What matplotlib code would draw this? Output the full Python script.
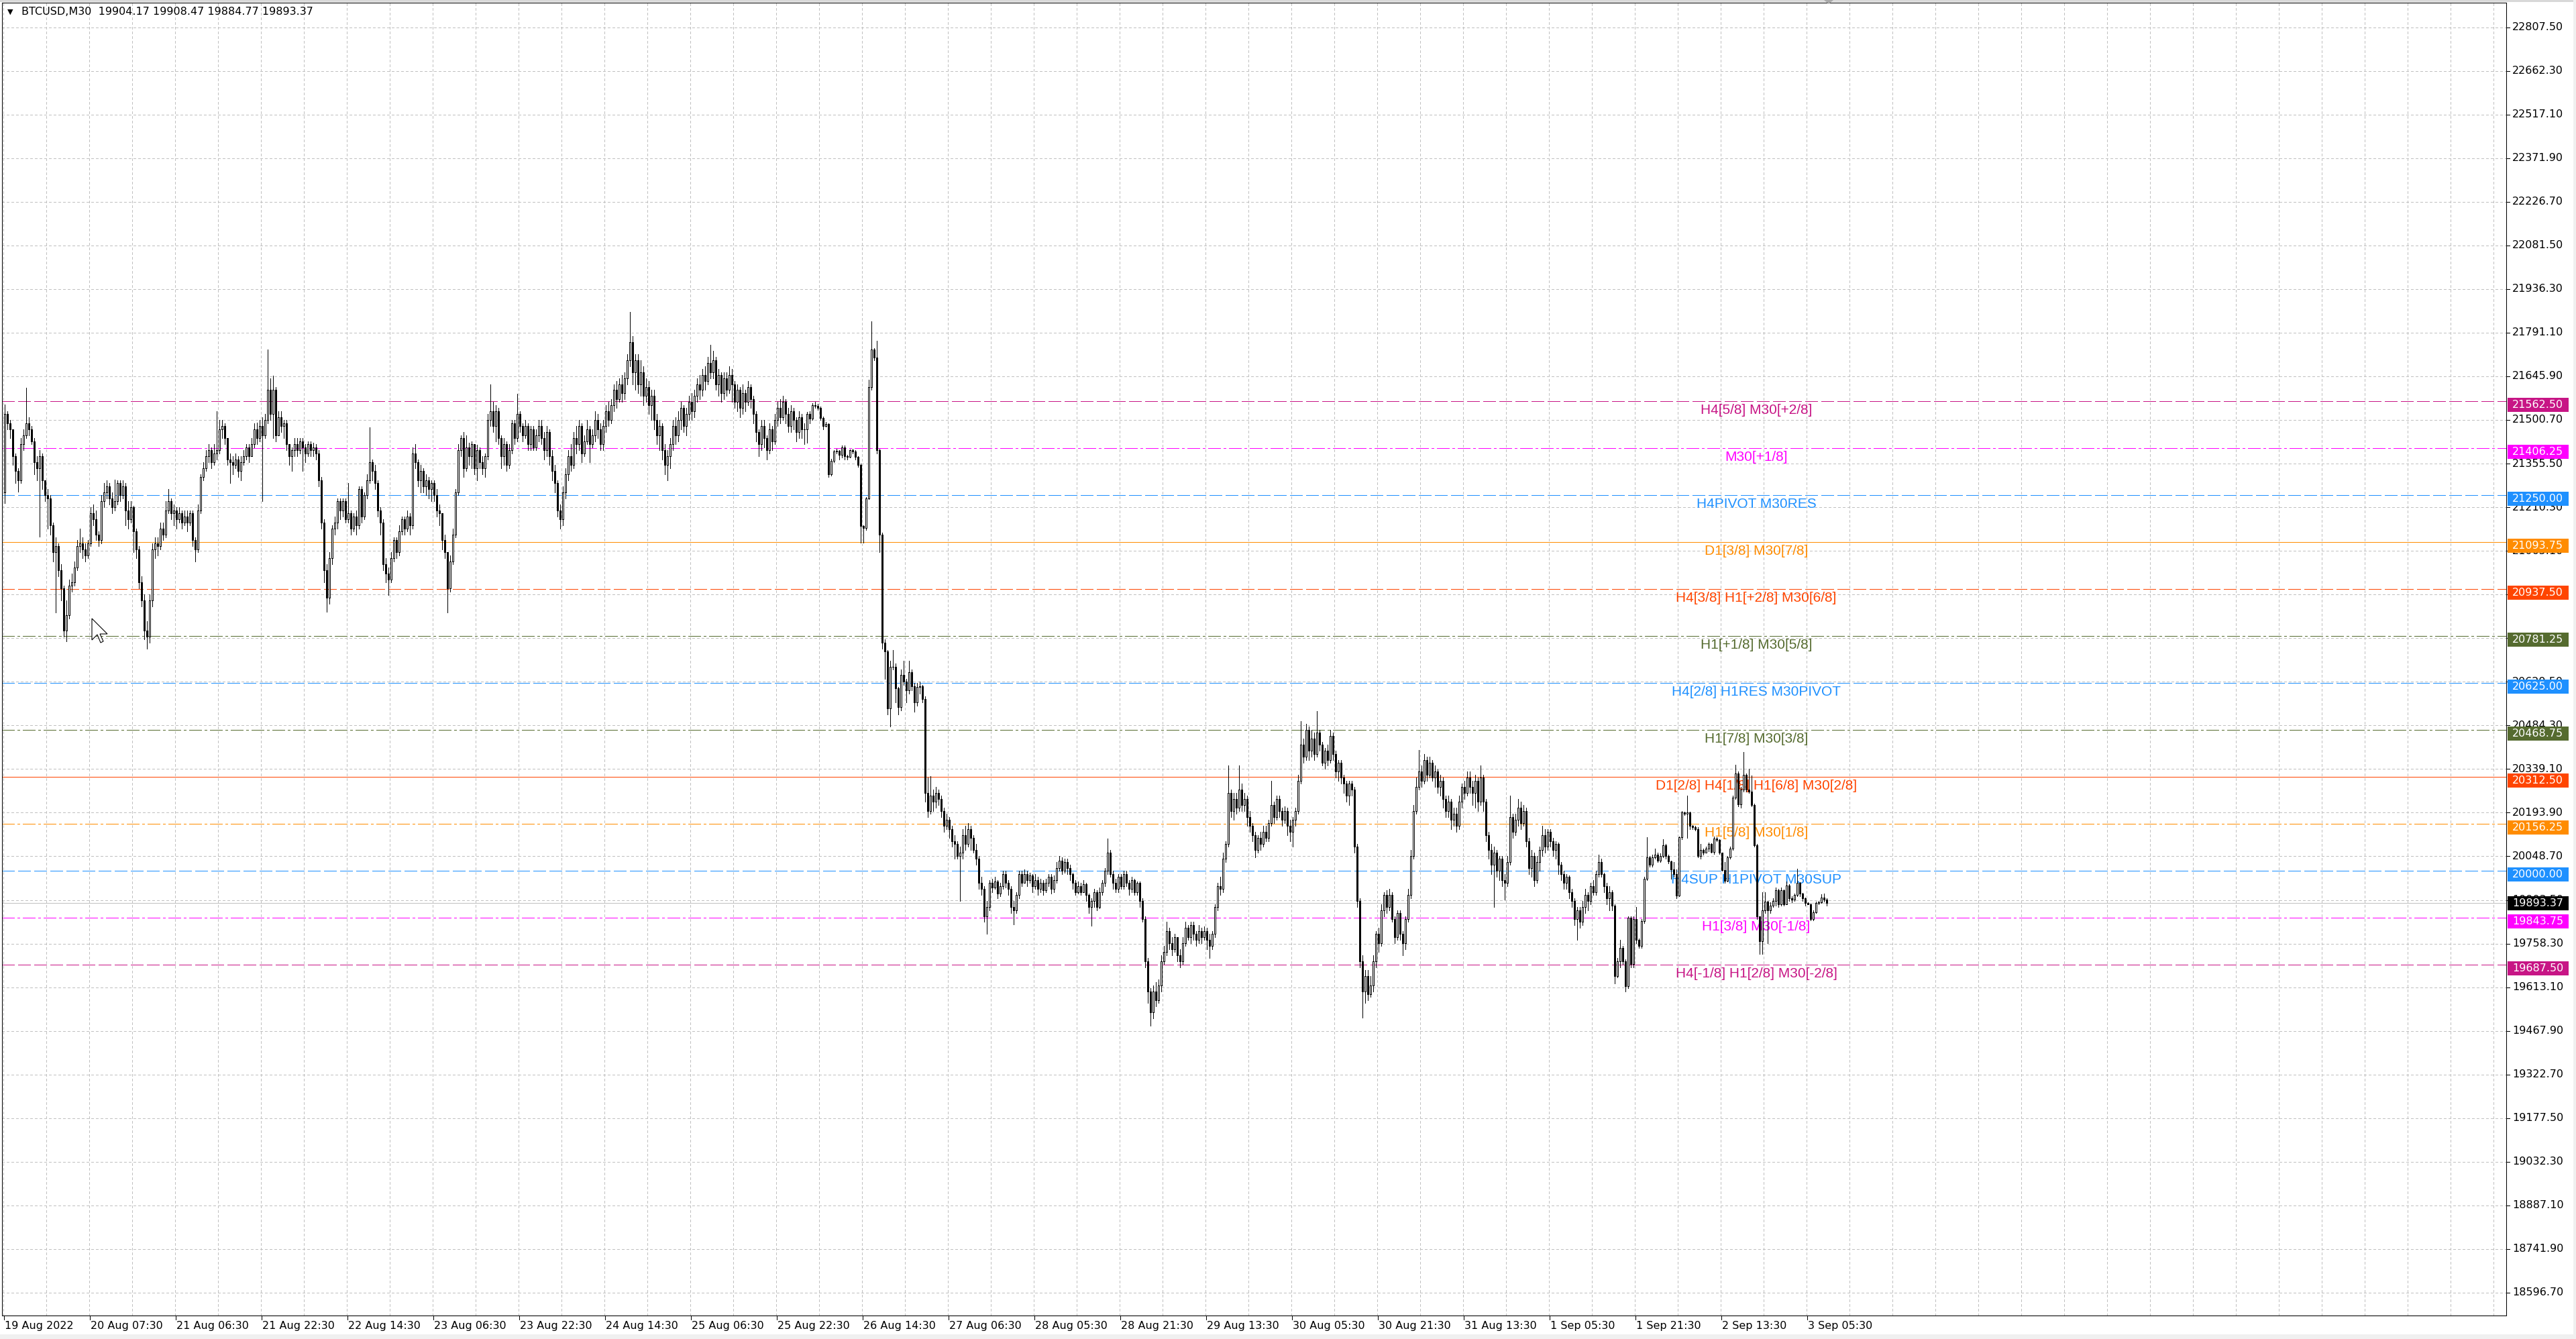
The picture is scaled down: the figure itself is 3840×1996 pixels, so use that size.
import numpy as np
import matplotlib
matplotlib.use("Agg")
import matplotlib.pyplot as plt
from matplotlib.patches import Rectangle, Polygon
from matplotlib.lines import Line2D
from matplotlib.transforms import blended_transform_factory

W, H, DPI = 3840, 1996, 100
plt.rcParams["lines.scale_dashes"] = False

header = "BTCUSD,M30  19904.17 19908.47 19884.77 19893.37"

first_open = 21260
closes = [
    21520, 21490, 21470, 21380, 21330, 21300, 21420, 21450, 21490, 21470,
    21430, 21360, 21340, 21380, 21300, 21250, 21240, 21150, 21060, 21080,
    21000, 20940, 20800, 20850, 20950, 20960, 21010, 21080, 21090, 21070,
    21050, 21090, 21190, 21170, 21120, 21100, 21230, 21260, 21280, 21240,
    21210, 21230, 21290, 21250, 21280, 21200, 21170, 21210, 21130, 21070,
    20960, 20900, 20800, 20780, 20900, 21070, 21090, 21080, 21140, 21120,
    21200, 21230, 21190, 21200, 21170, 21190, 21160, 21180, 21160, 21190,
    21100, 21070, 21200, 21310, 21340, 21380, 21400, 21360, 21390, 21400,
    21470, 21480, 21440, 21370, 21360, 21350, 21370, 21330, 21360, 21380,
    21410, 21380, 21420, 21470, 21440, 21480, 21450, 21500, 21600, 21520,
    21600, 21450, 21510, 21480, 21490, 21420, 21380, 21400, 21420, 21400,
    21430, 21410, 21390, 21420, 21400, 21410, 21390, 21300, 21160, 21000,
    20910, 21040, 21140, 21160, 21230, 21200, 21230, 21170, 21190, 21140,
    21180, 21150, 21270, 21180, 21250, 21300, 21360, 21330, 21290, 21200,
    21160, 21020, 20990, 20970, 21040, 21100, 21060, 21130, 21170, 21140,
    21180, 21150, 21390, 21360, 21300, 21330, 21280, 21300, 21270, 21290,
    21250, 21200, 21190, 21100, 21060, 20940, 21030, 21120, 21260, 21400,
    21440, 21340, 21410, 21380, 21420, 21340, 21400, 21360, 21340, 21380,
    21500, 21530, 21480, 21530, 21440, 21380, 21420, 21350, 21400, 21490,
    21440, 21520, 21480, 21450, 21480, 21420, 21470, 21410, 21450, 21480,
    21440, 21400, 21460, 21380, 21330, 21290, 21200, 21170, 21260, 21320,
    21380, 21350, 21440, 21420, 21480, 21390, 21430, 21470, 21420, 21450,
    21500, 21470, 21420, 21480, 21530, 21500, 21550, 21600, 21570, 21620,
    21590, 21640, 21700, 21760, 21660, 21700, 21620, 21660, 21580, 21610,
    21550, 21580, 21500, 21450, 21480, 21400, 21350, 21380, 21420, 21480,
    21450, 21500, 21540, 21480, 21520, 21560, 21530, 21580, 21620, 21600,
    21650, 21630, 21690, 21660, 21700, 21620, 21650, 21590, 21640, 21600,
    21650, 21620, 21560, 21600, 21540, 21590, 21560, 21610, 21570, 21520,
    21460, 21420, 21480, 21440, 21400, 21470, 21430, 21500, 21540, 21510,
    21560, 21520, 21480, 21530, 21500, 21460, 21510, 21470, 21470, 21520,
    21506, 21550, 21548, 21541, 21508, 21480, 21487, 21320, 21365, 21395,
    21398, 21385, 21410, 21380, 21378, 21400, 21396, 21378, 21352, 21147,
    21142, 21240, 21610, 21735, 21708, 21400, 21120, 20760, 20730, 20540,
    20680, 20680, 20607, 20545, 20652, 20630, 20600, 20662, 20614, 20560,
    20612, 20615, 20573, 20260, 20200, 20250, 20230, 20260, 20240, 20200,
    20150, 20170, 20140, 20100, 20090, 20050, 20060, 20120, 20090, 20140,
    20110, 20070, 20040, 19960, 19940, 19850, 19880, 19960, 19945, 19965,
    19925, 19950, 19990, 19960, 19940, 19880, 19870, 19920, 19990, 19960,
    19990, 19970, 19985, 19950, 19970, 19940, 19960, 19935, 19960, 19980,
    19940, 19970, 20010, 20035, 20000, 20030, 20010, 19990, 19960, 19930,
    19950, 19930, 19955, 19920, 19880, 19900, 19930, 19880, 19930, 19960,
    20000, 20060, 19990, 19960, 19940, 19980, 19950, 19990, 19960, 19940,
    19970, 19930, 19960, 19900, 19840, 19700, 19600, 19530, 19600, 19570,
    19620, 19700, 19730, 19800, 19760, 19740, 19780, 19720, 19700, 19760,
    19810, 19780, 19820, 19790, 19770, 19800, 19780, 19800, 19770, 19750,
    19790, 19880, 19950, 19940, 20040, 20090, 20260, 20200, 20240, 20210,
    20270, 20220, 20240, 20180, 20150, 20120, 20070, 20110, 20090, 20130,
    20110, 20160, 20220, 20180, 20240, 20200, 20170, 20200, 20150, 20130,
    20170, 20200, 20300, 20420, 20380, 20470, 20400, 20440, 20390, 20460,
    20420, 20360, 20400, 20370, 20450, 20390, 20330, 20360, 20310, 20290,
    20250, 20290, 20270, 20080, 19900, 19700, 19600, 19650, 19590, 19620,
    19700, 19790, 19760, 19870, 19920, 19880, 19920, 19840, 19780, 19860,
    19790, 19760, 19840, 19920, 20050, 20200, 20280, 20330, 20300, 20370,
    20320, 20360, 20310, 20330, 20280, 20300, 20240, 20200, 20230, 20170,
    20190, 20150, 20230, 20280, 20260, 20310, 20280, 20260, 20300, 20230,
    20310, 20230, 20120, 20070, 20020, 20060, 20000, 20040, 19970, 19960,
    20030, 20180, 20130, 20170, 20210, 20160, 20200, 20100, 20010, 20050,
    19970, 20030, 20070, 20120, 20080, 20130, 20100, 20070, 20090, 20020,
    19990, 19960, 19980, 19930, 19900, 19840, 19870, 19830, 19880, 19920,
    19900, 19950, 19930, 19990, 20030, 19990, 19950, 19910, 19930, 19885,
    19650, 19699, 19744, 19700, 19617, 19844, 19690, 19840, 19770, 19751,
    19833, 19975, 20045, 20020, 20045, 20055, 20035, 20050, 20086, 20050,
    20032, 20005, 19990, 19919, 20112, 20194, 20190, 20194, 20150, 20145,
    20140, 20049, 20070, 20060, 20075, 20090, 20063, 20108, 20104, 20060,
    20004, 19967, 20045, 20075, 20243, 20324, 20222, 20270, 20320, 20270,
    20265, 20220, 20086, 19848, 19766, 19870, 19897, 19870, 19885, 19900,
    19937, 19890, 19935, 19890, 19952, 19910, 19905, 19920, 19960, 19925,
    19910, 19893, 19890, 19840, 19863, 19893, 19895, 19911, 19904.17, 19893.37,
]
highs = [
    21551, 21530, 21500, 21470, 21390, 21340, 21440, 21470, 21607, 21510,
    21480, 21440, 21380, 21400, 21390, 21300, 21270, 21250, 21160, 21110,
    21090, 21020, 20950, 20900, 20970, 20990, 21030, 21100, 21140, 21110,
    21090, 21100, 21210, 21220, 21200, 21130, 21250, 21290, 21300, 21290,
    21260, 21302, 21300, 21300, 21300, 21290, 21230, 21230, 21216, 21140,
    21080, 20980, 20920, 20830, 20920, 21090, 21110, 21110, 21160, 21160,
    21230, 21270, 21240, 21220, 21210, 21210, 21200, 21200, 21200, 21200,
    21200, 21110, 21220, 21320, 21360, 21400, 21420, 21410, 21420, 21529,
    21500, 21500, 21490, 21440, 21390, 21380, 21390, 21380, 21380, 21400,
    21420, 21420, 21440, 21490, 21492, 21500, 21510, 21520, 21735, 21640,
    21648, 21610, 21530, 21530, 21500, 21500, 21420, 21410, 21440, 21440,
    21440, 21440, 21420, 21430, 21430, 21425, 21420, 21400, 21310, 21170,
    21020, 21060, 21150, 21180, 21240, 21240, 21240, 21240, 21290, 21200,
    21190, 21200, 21280, 21280, 21260, 21320, 21477, 21370, 21350, 21300,
    21210, 21170, 21040, 21010, 21060, 21110, 21110, 21150, 21180, 21180,
    21200, 21190, 21410, 21420, 21370, 21350, 21340, 21320, 21310, 21300,
    21300, 21270, 21220, 21190, 21120, 21060, 21050, 21140, 21270, 21420,
    21450, 21460, 21450, 21425, 21430, 21420, 21417, 21410, 21380, 21390,
    21520, 21618, 21560, 21550, 21540, 21450, 21440, 21430, 21420, 21500,
    21500, 21588, 21530, 21490, 21500, 21490, 21480, 21480, 21470, 21500,
    21500, 21460, 21480, 21470, 21400, 21350, 21300, 21220, 21280, 21340,
    21400, 21420, 21460, 21480, 21500, 21490, 21450, 21500, 21480, 21470,
    21530, 21520, 21490, 21500, 21550, 21560, 21570, 21620, 21630, 21640,
    21650, 21660, 21720, 21861, 21780, 21720, 21720, 21700, 21680, 21640,
    21630, 21600, 21600, 21520, 21500, 21490, 21420, 21400, 21440, 21500,
    21510, 21530, 21560, 21550, 21540, 21580, 21590, 21600, 21640, 21650,
    21670, 21680, 21710, 21750, 21730, 21710, 21670, 21660, 21660, 21660,
    21680, 21670, 21630, 21620, 21610, 21620, 21600, 21630, 21620, 21580,
    21530, 21470, 21500, 21500, 21450, 21490, 21480, 21520, 21560, 21570,
    21580, 21570, 21540, 21550, 21540, 21510, 21530, 21520, 21490, 21527,
    21530, 21556, 21560, 21555, 21545, 21512, 21495, 21490, 21372, 21400,
    21405, 21400, 21415, 21415, 21385, 21402, 21405, 21400, 21380, 21355,
    21150, 21245, 21635, 21828, 21740, 21765, 21405, 21125, 20770, 20735,
    20700, 20735, 20690, 20612, 20670, 20700, 20640, 20700, 20670, 20625,
    20625, 20630, 20620, 20580, 20310, 20315, 20270, 20280, 20270, 20250,
    20210, 20190, 20180, 20150, 20120, 20100, 20080, 20140, 20150, 20160,
    20150, 20120, 20090, 20050, 19980, 19950, 19900, 19970, 19975, 19980,
    19970, 19960, 20000, 20000, 19970, 19950, 19900, 19930, 20000, 20000,
    20005, 20000, 19995, 19990, 19990, 19980, 19975, 19970, 19975, 19990,
    19990, 19985, 20030, 20050, 20045, 20040, 20040, 20020, 19995, 19970,
    19965, 19960, 19970, 19960, 19925, 19910, 19940, 19935, 19945, 19970,
    20010, 20107, 20070, 20000, 19975, 19990, 19990, 20000, 20000, 19970,
    19980, 19975, 19965, 19965, 19910, 19850, 19710, 19610, 19620, 19630,
    19640, 19720, 19750, 19830, 19810, 19780, 19790, 19780, 19740, 19780,
    19830, 19820, 19830, 19830, 19800, 19820, 19810, 19815, 19810, 19790,
    19800, 19890, 19960, 19980, 20060, 20100, 20350, 20270, 20260, 20260,
    20350, 20290, 20260, 20250, 20200, 20160, 20130, 20120, 20130, 20150,
    20150, 20170, 20300, 20230, 20250, 20250, 20210, 20215, 20210, 20170,
    20180, 20210, 20320, 20498, 20440, 20490, 20480, 20470, 20460, 20533,
    20470, 20430, 20410, 20420, 20470, 20460, 20400, 20370, 20370, 20320,
    20300, 20300, 20300, 20280, 20090, 19910, 19720, 19670, 19670, 19650,
    19720, 19800, 19810, 19890, 19930, 19935, 19940, 19930, 19850, 19870,
    19870, 19800, 19850, 19940, 20070, 20220, 20310, 20402, 20350, 20390,
    20380, 20380, 20370, 20350, 20340, 20320, 20310, 20250, 20250, 20240,
    20210, 20210, 20250, 20290, 20300, 20330, 20330, 20300, 20320, 20310,
    20350, 20320, 20240, 20130, 20090, 20080, 20070, 20050, 20050, 19990,
    20050, 20250, 20190, 20190, 20240, 20230, 20220, 20210, 20110, 20070,
    20060, 20050, 20080, 20150, 20140, 20140, 20140, 20110, 20100, 20095,
    20030, 20000, 19990, 19985, 19940, 19910, 19880, 19880, 19900, 19940,
    19930, 19960, 19970, 20000, 20055, 20040, 19995, 19960, 19950, 19935,
    19890, 19710, 19770, 19750, 19705, 19850, 19850, 19850, 19880, 19775,
    19840, 19980, 20112, 20050, 20055, 20075, 20060, 20058, 20105, 20090,
    20055, 20035, 20030, 20005, 20115, 20200, 20198, 20250, 20196, 20152,
    20150, 20145, 20090, 20075, 20080, 20095, 20092, 20115, 20112, 20106,
    20062, 20030, 20050, 20080, 20250, 20354, 20330, 20280, 20395, 20325,
    20340, 20318, 20225, 20090, 19850, 19930, 19930, 19900, 19895, 19910,
    19945, 19940, 19945, 19938, 19965, 19955, 19915, 19925, 20008, 19962,
    19928, 19912, 19896, 19892, 19868, 19898, 19900, 19922, 19925, 19908.47,
]
lows = [
    21224, 21470, 21440, 21350, 21290, 21261, 21290, 21400, 21440, 21450,
    21420, 21320, 21300, 21112, 21270, 21230, 21140, 21120, 21030, 20860,
    20980, 20900, 20780, 20763, 20840, 20930, 20950, 21000, 21060, 21040,
    21030, 21040, 21080, 21150, 21100, 21080, 21090, 21210, 21240, 21220,
    21190, 21200, 21220, 21230, 21240, 21150, 21140, 21160, 21060, 21040,
    20940, 20880, 20770, 20740, 20760, 20880, 21040, 21050, 21070, 21100,
    21110, 21190, 21170, 21150, 21140, 21160, 21140, 21150, 21130, 21150,
    21080, 21030, 21060, 21190, 21300, 21330, 21360, 21340, 21350, 21370,
    21390, 21440, 21420, 21350, 21290, 21320, 21340, 21310, 21300, 21350,
    21370, 21360, 21390, 21410, 21420, 21430, 21230, 21440, 21490, 21500,
    21440, 21430, 21460, 21460, 21440, 21400, 21350, 21330, 21380, 21380,
    21390, 21330, 21360, 21380, 21380, 21380, 21370, 21280, 21140, 20960,
    20863, 20890, 21020, 21120, 21140, 21170, 21180, 21160, 21160, 21120,
    21130, 21120, 21140, 21160, 21170, 21240, 21290, 21300, 21270, 21180,
    21120, 21000, 20960, 20919, 20960, 21030, 21040, 21050, 21120, 21120,
    21130, 21120, 21140, 21340, 21280, 21260, 21260, 21250, 21240, 21230,
    21230, 21180, 21150, 21070, 21040, 20859, 20930, 21020, 21110, 21250,
    21380, 21310, 21330, 21350, 21340, 21320, 21300, 21340, 21320, 21310,
    21370, 21480, 21460, 21430, 21420, 21340, 21350, 21330, 21340, 21390,
    21420, 21430, 21460, 21430, 21440, 21400, 21400, 21400, 21400, 21430,
    21420, 21370, 21380, 21350, 21300, 21260, 21180, 21140, 21150, 21240,
    21300, 21330, 21340, 21390, 21400, 21360, 21380, 21420, 21360, 21410,
    21430, 21440, 21400, 21400, 21460, 21480, 21490, 21530, 21540, 21560,
    21560, 21570, 21620, 21680, 21620, 21600, 21590, 21580, 21550, 21560,
    21520, 21500, 21470, 21420, 21400, 21370, 21320, 21300, 21340, 21400,
    21420, 21430, 21470, 21460, 21450, 21500, 21500, 21510, 21560, 21570,
    21580, 21600, 21620, 21640, 21640, 21600, 21580, 21560, 21570, 21580,
    21590, 21560, 21540, 21530, 21510, 21520, 21530, 21550, 21540, 21490,
    21430, 21380, 21400, 21410, 21370, 21390, 21400, 21420, 21480, 21490,
    21500, 21490, 21460, 21460, 21470, 21430, 21440, 21440, 21420, 21425,
    21490, 21500, 21540, 21535, 21500, 21470, 21478, 21310, 21315, 21360,
    21390, 21370, 21375, 21370, 21370, 21375, 21390, 21370, 21345, 21093,
    21093, 21135, 21238, 21600, 21700, 21390, 21060, 20740, 20640, 20520,
    20480, 20670, 20560, 20520, 20535, 20620, 20560, 20590, 20600, 20530,
    20550, 20590, 20560, 20230, 20180, 20190, 20200, 20210, 20220, 20180,
    20130, 20140, 20110, 20080, 20040, 20040, 19900, 20040, 20070, 20080,
    20070, 20060, 20020, 19940, 19920, 19830, 19791, 19870, 19930, 19940,
    19910, 19915, 19940, 19945, 19920, 19860, 19823, 19860, 19910, 19950,
    19960, 19950, 19960, 19930, 19940, 19920, 19930, 19920, 19930, 19950,
    19925, 19930, 19960, 20000, 19990, 19995, 19990, 19970, 19940, 19920,
    19925, 19920, 19930, 19900, 19860, 19818, 19880, 19870, 19875, 19920,
    19950, 19990, 19980, 19940, 19930, 19930, 19940, 19940, 19950, 19920,
    19930, 19920, 19920, 19880, 19830, 19680, 19560, 19484, 19510, 19550,
    19560, 19600, 19690, 19720, 19740, 19720, 19730, 19700, 19680, 19690,
    19750, 19770, 19760, 19770, 19750, 19760, 19760, 19770, 19740, 19710,
    19740, 19780, 19870, 19920, 19930, 20030, 20080, 20180, 20170, 20190,
    20200, 20200, 20200, 20150, 20130, 20100, 20045, 20060, 20070, 20080,
    20100, 20100, 20150, 20160, 20170, 20180, 20150, 20160, 20120, 20100,
    20080, 20150, 20190, 20290, 20360, 20370, 20370, 20380, 20370, 20380,
    20400, 20350, 20340, 20350, 20360, 20370, 20310, 20300, 20290, 20260,
    20230, 20220, 20250, 20060, 19880, 19680, 19512, 19560, 19570, 19580,
    19600, 19680, 19730, 19750, 19850, 19860, 19870, 19830, 19760, 19770,
    19770, 19720, 19740, 19830, 19910, 20040, 20190, 20270, 20280, 20290,
    20300, 20310, 20300, 20280, 20260, 20250, 20210, 20180, 20180, 20140,
    20150, 20130, 20140, 20210, 20240, 20250, 20260, 20220, 20210, 20200,
    20220, 20200, 20100, 20040, 19990, 19880, 19980, 19970, 19950, 19905,
    19950, 20020, 20110, 20120, 20150, 20140, 20150, 20080, 19990, 19980,
    19950, 19960, 20000, 20050, 20060, 20070, 20080, 20050, 20040, 19990,
    19970, 19940, 19940, 19910, 19880, 19820, 19770, 19810, 19820, 19860,
    19870, 19890, 19920, 19920, 19980, 19980, 19930, 19890, 19870, 19870,
    19625, 19645, 19680, 19690, 19599, 19610, 19680, 19680, 19760, 19745,
    19745, 19826, 19970, 20015, 20015, 20040, 20030, 20030, 20045, 20040,
    20025, 19975, 19980, 19910, 19915, 20105, 20185, 20110, 20140, 20140,
    20135, 20045, 20040, 20055, 20060, 20066, 20060, 20057, 20098, 20056,
    20000, 19960, 19965, 20040, 20070, 20240, 20215, 20210, 20265, 20265,
    20260, 20215, 20080, 19840, 19725, 19725, 19860, 19760, 19860, 19880,
    19885, 19880, 19885, 19885, 19890, 19900, 19895, 19900, 19915, 19915,
    19900, 19885, 19888, 19836, 19836, 19860, 19890, 19893, 19898, 19884.77,
]

time_labels = [
    "19 Aug 2022", "20 Aug 07:30", "21 Aug 06:30", "21 Aug 22:30", "22 Aug 14:30",
    "23 Aug 06:30", "23 Aug 22:30", "24 Aug 14:30", "25 Aug 06:30", "25 Aug 22:30",
    "26 Aug 14:30", "27 Aug 06:30", "28 Aug 05:30", "28 Aug 21:30", "29 Aug 13:30",
    "30 Aug 05:30", "30 Aug 21:30", "31 Aug 13:30", "1 Sep 05:30", "1 Sep 21:30",
    "2 Sep 13:30", "3 Sep 05:30",
]
bars_per_label = 32

price_ticks = [round(18596.70 + 145.20 * k, 2) for k in range(30)]

level_prices = [21562.50, 21406.25, 21250.00, 21093.75, 20937.50, 20781.25, 20625.00,
                20468.75, 20312.50, 20156.25, 20000.00, 19843.75, 19687.50]
level_names = [
    "H4[5/8] M30[+2/8]", "M30[+1/8]", "H4PIVOT M30RES", "D1[3/8] M30[7/8]",
    "H4[3/8] H1[+2/8] M30[6/8]", "H1[+1/8] M30[5/8]", "H4[2/8] H1RES M30PIVOT",
    "H1[7/8] M30[3/8]", "D1[2/8] H4[1/8] H1[6/8] M30[2/8]", "H1[5/8] M30[1/8]",
    "H4SUP H1PIVOT M30SUP", "H1[3/8] M30[-1/8]", "H4[-1/8] H1[2/8] M30[-2/8]",
]
level_colors = ["#c71585", "#ff00ff", "#1e90ff", "#ff8c00", "#ff4500", "#556b2f", "#1e90ff",
                "#556b2f", "#ff4500", "#ff8c00", "#1e90ff", "#ff00ff", "#c71585"]
level_kinds = ["dash", "dashdot", "dash", "solid", "dash", "dashdot", "dash",
               "dashdot", "solid", "dashdot", "dash", "dashdot", "dash"]
last_price = 19893.37

assert len(closes) == len(highs) == len(lows)

# ---- layout (figure pixels) ----
def fx(px):
    return px / W

def fy(py):
    return 1 - py / H

Y0, Y1 = 18520.8, 22889.0
per_px = (Y1 - Y0) / 1957  # price units per screen pixel

fig = plt.figure(figsize=(W / DPI, H / DPI), dpi=DPI, facecolor="white")
ax = fig.add_axes([fx(3), fy(1961), fx(3736) - fx(3), fy(4) - fy(1961)])
ax.set_facecolor("white")
ax.set_xlim(-1, 932.25)
ax.set_ylim(Y0, Y1)
ax.set_xticks([])
ax.set_yticks([])
for s in ax.spines.values():
    s.set_color("black")
    s.set_linewidth(0.75)

grid_style = dict(color="#c0c0c0", lw=0.72, ls=(0, (2.2, 2.2)), zorder=0.5, antialiased=False)
for p in price_ticks:
    ax.axhline(p, **grid_style)
for k in range(59):
    ax.axvline(-0.5 + 16 * k, **grid_style)

styles = {"dash": (0, (13, 4.3)), "dashdot": (0, (13, 3.2, 2.2, 3.2)), "solid": "-"}
for p, name, c, kind in zip(level_prices, level_names, level_colors, level_kinds):
    ax.axhline(p, color=c, lw=0.72, ls=styles[kind], zorder=1, antialiased=False)
    ax.text(652.75, p - 3.4 * per_px, name, color=c, fontsize=15, family="Liberation Sans",
            ha="center", va="top", zorder=2)
ax.axhline(last_price, color="#c0c0c0", lw=0.72, zorder=1, antialiased=False)

# ---- candles ----
c = np.array(closes, dtype=float)
o = np.concatenate([[first_open], c[:-1]])
h = np.maximum(np.array(highs, dtype=float), np.maximum(o, c))
l = np.minimum(np.array(lows, dtype=float), np.minimum(o, c))
x = np.arange(len(c))
up = c >= o
ax.vlines(x, l, h, color="black", lw=0.72, zorder=3, antialiased=False)
ax.bar(x[up], c[up] - o[up], bottom=o[up], width=0.5, color="white",
       edgecolor="black", lw=0.72, zorder=4, antialiased=False)
ax.bar(x[~up], c[~up] - o[~up], bottom=o[~up], width=0.5, color="black",
       edgecolor="black", lw=0.72, zorder=4, antialiased=False)

# ---- price scale ----
ty = blended_transform_factory(fig.transFigure, ax.transData)
for p in price_ticks:
    fig.text(fx(3745), p, f"{p:.2f}", transform=ty, ha="left", va="center",
             fontsize=11.5, color="black", zorder=3)
    fig.add_artist(Line2D([fx(3736), fx(3741)], [p, p], transform=ty, color="black", lw=0.75))

box_h = 10.5 * per_px
shift = 5.5 * per_px
boxes = [(p - shift, p, col) for p, col in zip(level_prices, level_colors)]
boxes.append((last_price, last_price, "black"))
for yc, p, col in boxes:
    fig.add_artist(Rectangle((fx(3738), yc - box_h), fx(3829) - fx(3738), 2 * box_h,
                             transform=ty, facecolor=col, edgecolor="none", zorder=5))
    fig.text(fx(3783), yc, f"{p:.2f}", transform=ty, ha="center", va="center",
             fontsize=11.5, color="white", zorder=6)

# ---- time scale ----
tx = blended_transform_factory(ax.transData, fig.transFigure)
for k, lab in enumerate(time_labels):
    xb = -0.375 + bars_per_label * k
    fig.add_artist(Line2D([xb, xb], [fy(1961), fy(1967)], transform=tx, color="black", lw=0.75))
    fig.text(xb + 0.4, fy(1976), lab, transform=tx, ha="left", va="center",
             fontsize=11.5, family=["DejaVu Sans Condensed", "DejaVu Sans"], color="black")

# ---- header and window chrome ----
fig.text(fx(11), fy(18), "\u25bc", fontsize=8, va="center", color="black")
fig.text(fx(32), fy(18), header, fontsize=11.5, va="center", color="black")
fig.add_artist(Rectangle((0, fy(3)), 1, 3 / H, transform=fig.transFigure,
                         facecolor="#d8d8d8", edgecolor="none", zorder=7))
fig.add_artist(Rectangle((0, 0), 1, 7 / H, transform=fig.transFigure,
                         facecolor="#f0f0f0", edgecolor="none", zorder=7))
fig.add_artist(Rectangle((fx(3836), 0), 4 / W, 1, transform=fig.transFigure,
                         facecolor="#f0f0f0", edgecolor="none", zorder=7))
fig.add_artist(Polygon([(fx(2719), fy(0)), (fx(2733), fy(0)), (fx(2726), fy(6))],
                       transform=fig.transFigure, facecolor="#a8a8a8", edgecolor="none", zorder=8))

# mouse pointer
tip = (137, 922)
shape = [(0, 0), (0, 32), (8, 24), (13, 36), (17, 34), (12, 23), (23, 23)]
fig.add_artist(Polygon([(fx(tip[0] + a), fy(tip[1] + b)) for a, b in shape],
                       transform=fig.transFigure, facecolor="white", edgecolor="black",
                       lw=0.8, zorder=9))

fig.savefig("out.png", dpi=DPI, facecolor="white")
